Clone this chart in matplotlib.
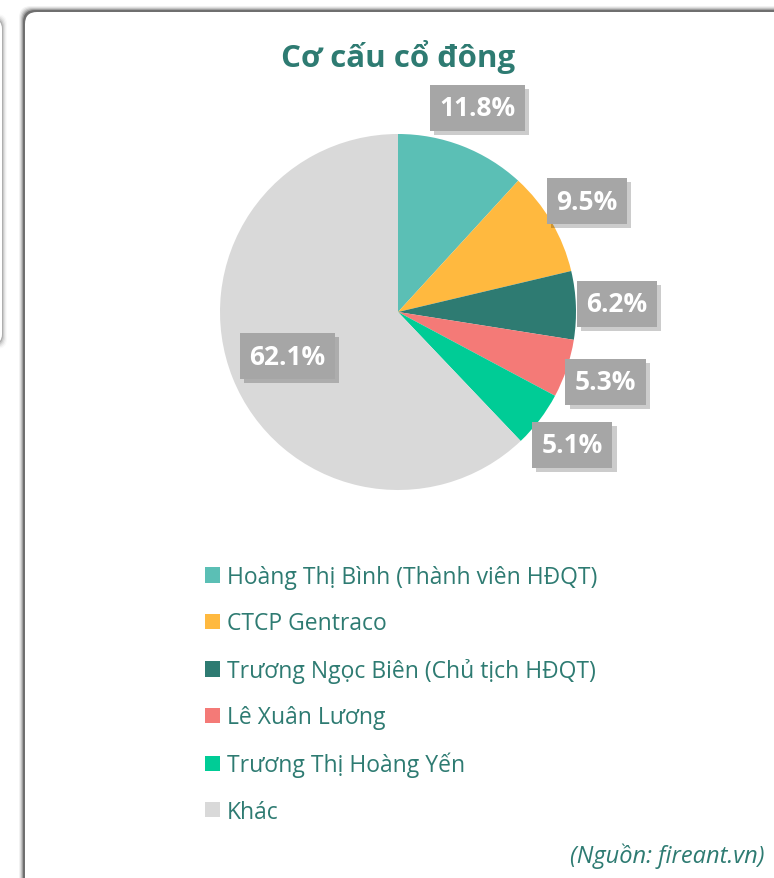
import matplotlib.pyplot as plt
import matplotlib.patheffects as pe
from matplotlib.patches import FancyBboxPatch, Patch
import numpy as np

# Dữ liệu cơ cấu cổ đông (%)
co_dong = ['Hoàng Thị Bình (Thành viên HĐQT)', 'CTCP Gentraco',
           'Trương Ngọc Biên (Chủ tịch HĐQT)', 'Lê Xuân Lương',
           'Trương Thị Hoàng Yến', 'Khác']
ty_le = [11.8, 9.5, 6.2, 5.3, 5.1, 62.1]
mau = ['#5bbfb5', '#ffb93f', '#2e7b72', '#f47a77', '#00cc96', '#d9d9d9']

W, H = 774, 879
plt.rcParams['font.family'] = ['Open Sans', 'DejaVu Sans']
mau_chu = '#2e7b72'

fig = plt.figure(figsize=(W / 100, H / 100), dpi=100)
fig.patch.set_facecolor('white')

# Nền: thẻ trắng bo góc có bóng
bg = fig.add_axes([0, 0, 1, 1])
bg.set_xlim(0, W)
bg.set_ylim(H, 0)
bg.axis('off')
for i, a in enumerate([0.05, 0.08, 0.12, 0.18, 0.28]):
    d = 5 - i
    bg.add_patch(FancyBboxPatch((-300 - d, 20 - d), 302 + 2 * d, 325 + 2 * d,
                                boxstyle='round,pad=0,rounding_size=10',
                                fc='#000000', ec='none', alpha=a * 0.5))
bg.add_patch(FancyBboxPatch((-300, 20), 302, 325, boxstyle='round,pad=0,rounding_size=10',
                            fc='white', ec='none'))
for i, a in enumerate([0.05, 0.08, 0.12, 0.18, 0.3]):
    d = 5 - i
    bg.add_patch(FancyBboxPatch((24 - d, 12 - d), 800 + 2 * d, 900 + 2 * d,
                                boxstyle='round,pad=0,rounding_size=12',
                                fc='#000000', ec='none', alpha=a))
bg.add_patch(FancyBboxPatch((25, 13), 800, 900, boxstyle='round,pad=0,rounding_size=12',
                            fc='white', ec='none'))

# Biểu đồ tròn
cx, cy, r = 398, 313, 178
ax = fig.add_axes([(cx - r) / W, (H - cy - r) / H, 2 * r / W, 2 * r / H])
wedges, texts, autotexts = ax.pie(ty_le, colors=mau, startangle=90, counterclock=False,
                                  autopct='%1.1f%%', pctdistance=1.23,
                                  wedgeprops=dict(linewidth=0),
                                  textprops=dict(color='white', fontsize=19, fontweight='bold'))
ax.set_xlim(-1, 1)
ax.set_ylim(-1, 1)
ax.set_aspect('equal')
for w, t in zip(wedges, autotexts):
    if w.theta2 - w.theta1 > 180:
        goc = np.deg2rad((w.theta1 + w.theta2) / 2)
        t.set_position((0.67 * np.cos(goc), 0.67 * np.sin(goc)))
    t.set_bbox(dict(boxstyle='square,pad=0.36', fc='#a6a6a6', ec='none'))
    t.get_bbox_patch().set_path_effects([
        pe.SimplePatchShadow(offset=(3, -3), shadow_rgbFace='black', alpha=0.2),
        pe.Normal()])

fig.text(398 / W, 1 - 57 / H, 'Cơ cấu cổ đông', ha='center', va='center',
         fontsize=22.5, fontweight='bold', color=mau_chu)

handles = [Patch(facecolor=c, edgecolor='none') for c in mau]
fig.legend(handles, co_dong, loc='upper left', bbox_to_anchor=(205 / W, 1 - 566 / H),
           frameon=False, fontsize=16.5, labelcolor=mau_chu, handlelength=0.65,
           handleheight=0.65, handletextpad=0.3, labelspacing=0.98,
           borderpad=0, borderaxespad=0)

fig.text(765 / W, 1 - 856 / H, '(Nguồn: fireant.vn)', ha='right', va='center',
         fontsize=17, style='italic', color=mau_chu)

fig.savefig('out.png', dpi=100)
